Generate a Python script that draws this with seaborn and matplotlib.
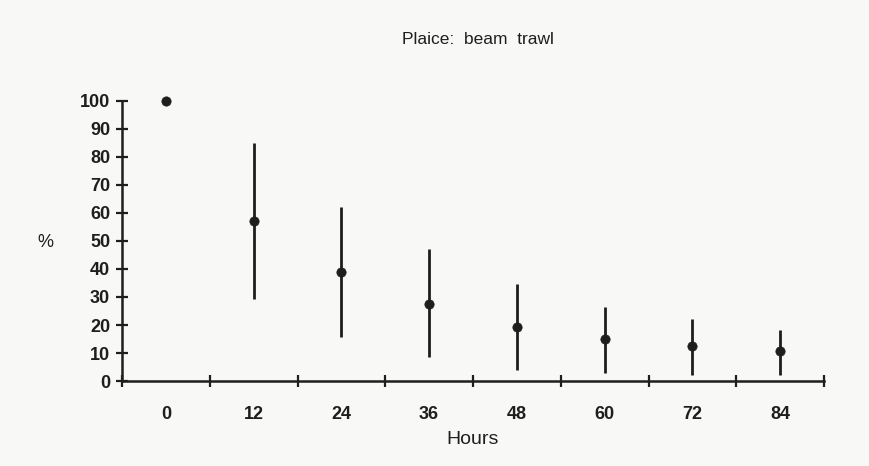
import matplotlib
matplotlib.use("Agg")
import matplotlib.pyplot as plt
import seaborn as sns
import numpy as np
import pandas as pd

hours = ["0", "12", "24", "36", "48", "60", "72", "84"]
mean_pct = [100, 57, 39, 27.5, 19.3, 15, 12.5, 10.7]
upper_pct = [100, 85, 62, 47, 34.6, 26.4, 22.1, 18.2]
lower_pct = [100, 29.3, 15.7, 8.6, 3.9, 2.9, 2.1, 2.1]
y_ticks = [0, 10, 20, 30, 40, 50, 60, 70, 80, 90, 100]

sns.set_theme(style="ticks")
plt.rcParams['font.family'] = ['Liberation Sans', 'DejaVu Sans']

ink = "#1e1e1e"
bg = "#f8f8f6"

fig = plt.figure(figsize=(8.7, 4.66), dpi=100, facecolor=bg)
ax = fig.add_axes([122/870, 1-381/466, (824-122)/870, (381-101)/466])
ax.set_facecolor(bg)

df = pd.DataFrame({"pos": np.arange(len(hours)), "hours": hours,
                   "mean": mean_pct, "lo": lower_pct, "hi": upper_pct})

ax.vlines(df["pos"], df["lo"], df["hi"], color=ink, lw=2.0, zorder=2)
sns.scatterplot(data=df, x="pos", y="mean", ax=ax, color=ink, s=45,
                edgecolor=ink, linewidth=0.5, zorder=3, clip_on=False, legend=False)

ax.set_xlim(-0.5, len(hours) - 0.5)
ax.set_ylim(0, 100)
ax.set_xticks(np.arange(-0.5, len(hours)), minor=False)
ax.set_xticklabels([])
ax.set_xticks(np.arange(len(hours)), minor=True)
ax.set_xticklabels(hours, minor=True)
ax.tick_params(axis="x", which="minor", length=0, pad=18, labelsize=13, colors=ink)
ax.tick_params(axis="x", which="major", direction="inout", length=9, width=1.6, color=ink)
ax.set_yticks(y_ticks)
ax.set_yticklabels([str(v) for v in y_ticks])
ax.tick_params(axis="y", direction="inout", length=9, width=1.6, color=ink,
               labelsize=13, labelcolor=ink, pad=4)
for t in ax.get_yticklabels() + ax.get_xticklabels(minor=True):
    t.set_fontweight("bold")

sns.despine(ax=ax)
for s in ["left", "bottom"]:
    ax.spines[s].set_linewidth(1.8)
    ax.spines[s].set_color(ink)

ax.set_xlabel("Hours", fontsize=14, color=ink, labelpad=6)
ax.set_ylabel("%", fontsize=13, color=ink, rotation=0, va="center", ha="center")
ax.yaxis.set_label_coords(-0.109, 0.495)
fig.text(478/870, 1-40/466, "Plaice:  beam  trawl", ha="center", va="center",
         fontsize=12.5, color=ink)

fig.savefig("out.png", dpi=100, facecolor=bg)
